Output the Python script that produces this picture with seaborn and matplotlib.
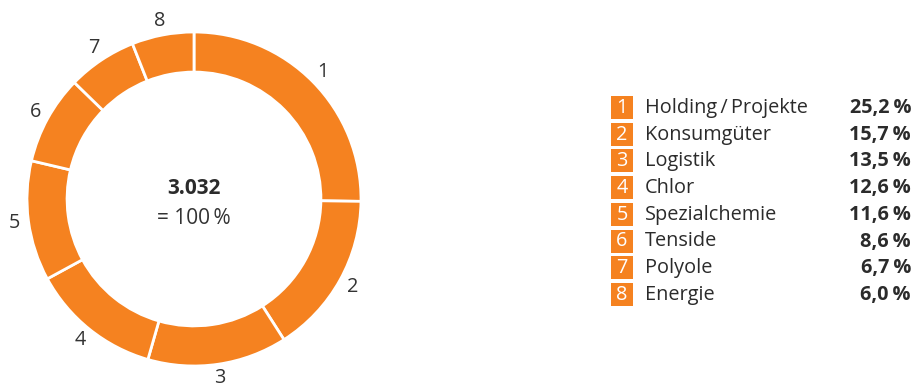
import matplotlib
matplotlib.use("Agg")
import matplotlib.pyplot as plt
from matplotlib.patches import Rectangle
import seaborn as sns

numbers = ["1", "2", "3", "4", "5", "6", "7", "8"]
segments = ["Holding\u2009/\u2009Projekte", "Konsumgüter", "Logistik", "Chlor",
            "Spezialchemie", "Tenside", "Polyole", "Energie"]
shares = [25.2, 15.7, 13.5, 12.6, 11.6, 8.6, 6.7, 6.0]
share_labels = ["25,2\u2009%", "15,7\u2009%", "13,5\u2009%", "12,6\u2009%",
                "11,6\u2009%", "8,6\u2009%", "6,7\u2009%", "6,0\u2009%"]
total_label = "3.032"
total_sub = "= 100\u2009%"

sns.set_theme(style="white")
plt.rcParams['font.family'] = ['Open Sans', 'DejaVu Sans']

ORANGE = "#F58220"
TEXT = "#2b2b2b"
FS = 14.3

W, H = 914, 390
fig = plt.figure(figsize=(W / 100, H / 100), dpi=100)
fig.patch.set_facecolor("white")

cx, cy, R = 194, 199, 167
ax = fig.add_axes([(cx - R) / W, (H - cy - R) / H, 2 * R / W, 2 * R / H])
palette = sns.color_palette([ORANGE] * len(shares))
wedges, texts = ax.pie(
    shares, labels=numbers, colors=palette, startangle=90, counterclock=False,
    labeldistance=1.085, radius=1,
    wedgeprops=dict(width=0.24, edgecolor="white", linewidth=2),
    textprops=dict(fontsize=FS, color="#333333"),
)
for t in texts:
    t.set_ha("center")
    t.set_va("center")
    t.set_clip_on(False)
ax.set_xlim(-1, 1)
ax.set_ylim(-1, 1)
ax.set_aspect("equal")
ax.axis("off")

ax.text(0, 0.06, total_label, ha="center", va="center", fontsize=15,
        fontweight="bold", color=TEXT)
ax.text(0, -0.115, total_sub, ha="center", va="center", fontsize=15,
        color="#333333")

# Legend drawn in pixel coordinates
lax = fig.add_axes([0, 0, 1, 1])
lax.set_xlim(0, W)
lax.set_ylim(H, 0)
lax.axis("off")
y0, dy = 107.5, 26.7
for i, (n, s, p) in enumerate(zip(numbers, segments, share_labels)):
    y = y0 + i * dy
    lax.add_patch(Rectangle((611, y - 11.5), 22, 23, facecolor=ORANGE, edgecolor="none"))
    lax.text(622, y + 0.5, n, ha="center", va="center", fontsize=FS, color="white")
    lax.text(645, y + 0.5, s, ha="left", va="center", fontsize=FS, color=TEXT)
    lax.text(911, y + 0.5, p, ha="right", va="center", fontsize=FS,
             fontweight="bold", color=TEXT)

fig.savefig("out.png", dpi=100, facecolor="white")
